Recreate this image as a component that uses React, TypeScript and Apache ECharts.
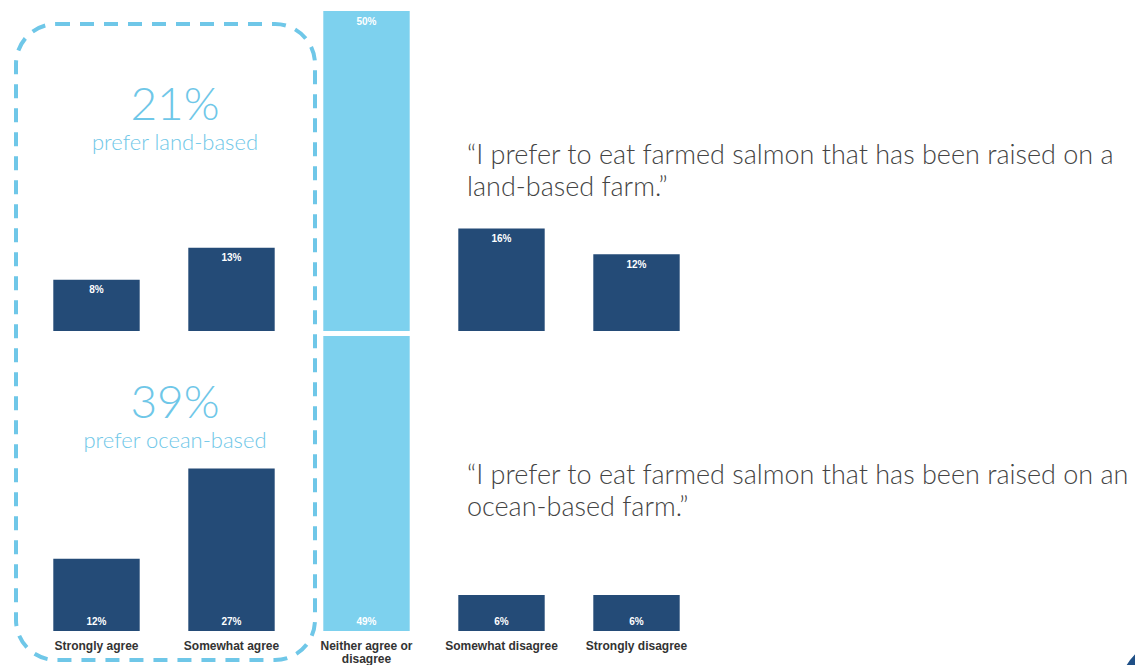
import React, { useEffect, useRef } from "react";
import * as echarts from "echarts";

const categories = ["Strongly agree", "Somewhat agree", "Neither agree or\ndisagree", "Somewhat disagree", "Strongly disagree"];
const landValues = [8, 13, 50, 16, 12];
const oceanValues = [12, 27, 49, 6, 6];
const highlightIndex = 2;
const landSummary = "21%";
const landSummaryText = "prefer land-based";
const oceanSummary = "39%";
const oceanSummaryText = "prefer ocean-based";
const landQuote = "\u201CI prefer to eat farmed salmon that has been raised on a\nland-based farm.\u201D";
const oceanQuote = "\u201CI prefer to eat farmed salmon that has been raised on an\nocean-based farm.\u201D";

const DARK = "#244b77";
const LIGHT = "#7dd1ee";
const ACCENT = "#6fc7e8";

export default function App() {
  const ref = useRef<HTMLDivElement>(null);
  useEffect(() => {
    if (!ref.current) return;
    const chart = echarts.init(ref.current, null, { renderer: "svg" });
    const mk = (vals: number[]) =>
      vals.map((v, i) => ({ value: v, itemStyle: { color: i === highlightIndex ? LIGHT : DARK } }));
    const labelCommon = {
      show: true,
      color: "#ffffff",
      fontSize: 10,
      fontWeight: "bold" as const,
      fontFamily: "Liberation Sans, Arial, sans-serif",
      formatter: "{c}%",
    };
    chart.setOption({
      animation: false,
      grid: [
        { left: 29, width: 675, top: 11, height: 320 },
        { left: 29, width: 675, top: 336, height: 297 },
      ],
      xAxis: [
        { type: "category", gridIndex: 0, data: categories, axisLine: { show: false }, axisTick: { show: false }, axisLabel: { show: false } },
        {
          type: "category",
          gridIndex: 1,
          data: categories,
          axisLine: { show: false },
          axisTick: { show: false },
          axisLabel: {
            show: true,
            interval: 0,
            margin: 8,
            color: "#333333",
            fontSize: 12,
            fontWeight: "bold",
            lineHeight: 13,
            fontFamily: "Liberation Sans, Arial, sans-serif",
          },
        },
      ],
      yAxis: [
        { type: "value", gridIndex: 0, min: 0, max: 50, show: false, splitLine: { show: false } },
        { type: "value", gridIndex: 1, min: 0, max: 49, show: false, splitLine: { show: false } },
      ],
      series: [
        {
          type: "bar",
          xAxisIndex: 0,
          yAxisIndex: 0,
          barWidth: "64%",
          data: mk(landValues),
          label: { ...labelCommon, position: "insideTop", distance: 5 },
        },
        {
          type: "bar",
          xAxisIndex: 1,
          yAxisIndex: 1,
          barWidth: "64%",
          data: mk(oceanValues),
          label: { ...labelCommon, position: "insideBottom", distance: 5 },
        },
      ],
      graphic: [
        {
          type: "rect",
          shape: { x: 16, y: 24, width: 299, height: 636, r: 40 },
          style: { fill: "none", stroke: ACCENT, lineWidth: 4, lineDash: [14, 10] },
          z: 10,
        },
        {
          type: "text",
          x: 175,
          y: 102,
          style: { text: landSummary, fill: ACCENT, font: "300 46px Lato, sans-serif", align: "center", verticalAlign: "middle" },
        },
        {
          type: "text",
          x: 175,
          y: 141,
          style: { text: landSummaryText, fill: ACCENT, font: "300 22px Lato, sans-serif", align: "center", verticalAlign: "middle" },
        },
        {
          type: "text",
          x: 175,
          y: 400,
          style: { text: oceanSummary, fill: ACCENT, font: "300 46px Lato, sans-serif", align: "center", verticalAlign: "middle" },
        },
        {
          type: "text",
          x: 175,
          y: 439,
          style: { text: oceanSummaryText, fill: ACCENT, font: "300 22px Lato, sans-serif", align: "center", verticalAlign: "middle" },
        },
        {
          type: "text",
          x: 467,
          y: 137,
          style: { text: landQuote, fill: "#444444", font: "300 27px Lato, sans-serif", lineHeight: 32 },
        },
        {
          type: "text",
          x: 467,
          y: 457,
          style: { text: oceanQuote, fill: "#444444", font: "300 27px Lato, sans-serif", lineHeight: 32 },
        },
        {
          type: "circle",
          shape: { cx: 1170, cy: 690, r: 50 },
          style: { fill: "#1f4f86" },
        },
      ],
    });
    return () => chart.dispose();
  }, []);
  return (
    <div
      ref={ref}
      style={{ position: "absolute", left: 0, top: 0, width: 1135, height: 665, background: "#ffffff" }}
    />
  );
}
